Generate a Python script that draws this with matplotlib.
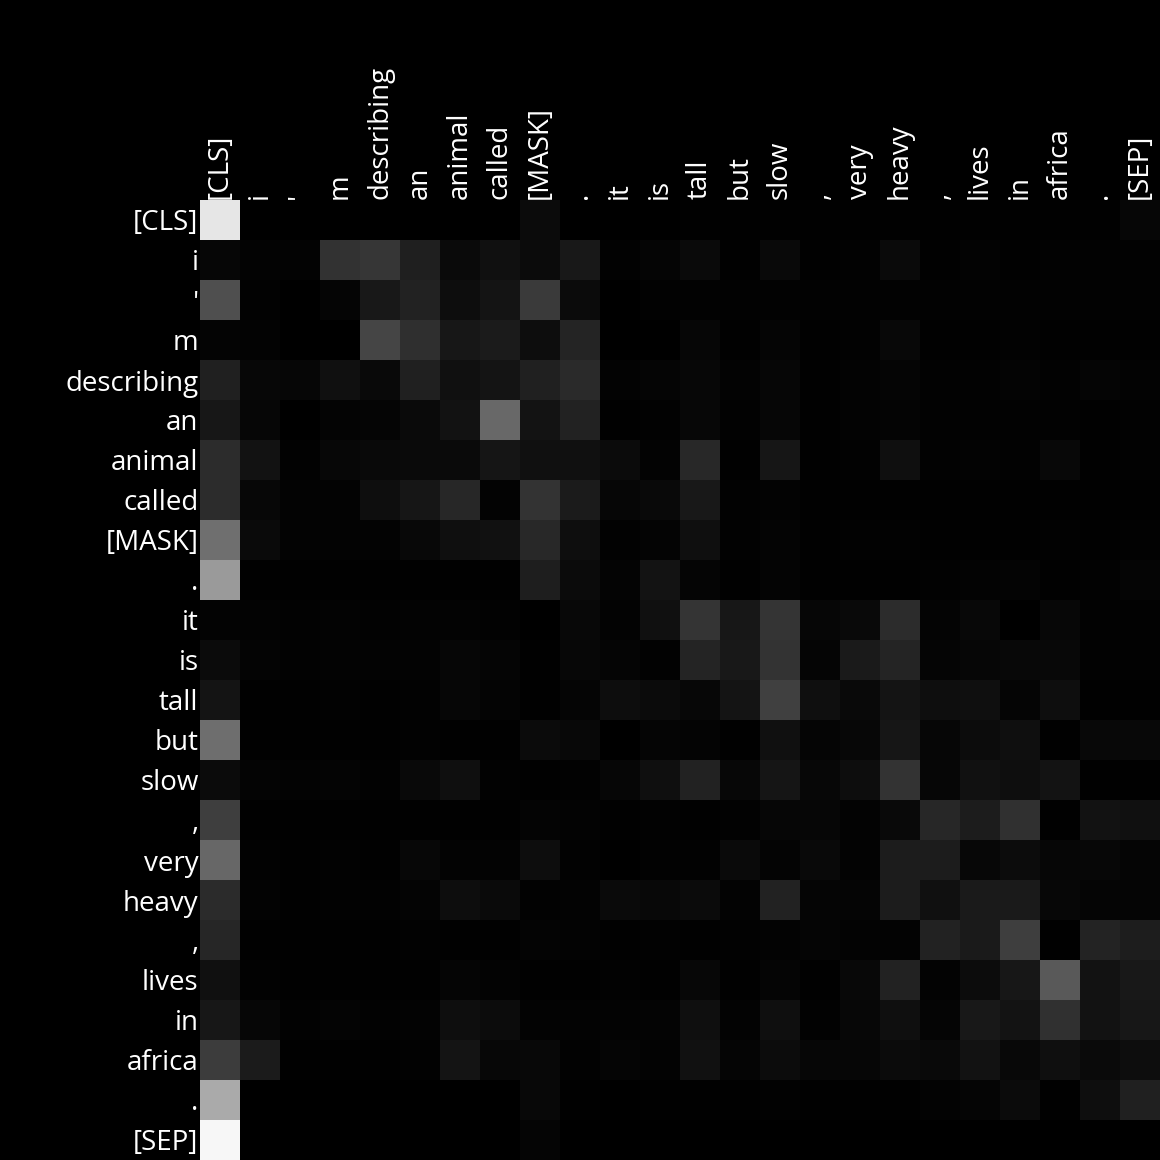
import matplotlib
matplotlib.use("Agg")
import matplotlib.pyplot as plt
import numpy as np

# ── Tokens ───────────────────────────────────────────────────
tokens = ["[CLS]", "i", "'", "m", "describing", "an", "animal", "called",
          "[MASK]", ".", "it", "is", "tall", "but", "slow", ",", "very",
          "heavy", ",", "lives", "in", "africa", ".", "[SEP]"]

# ── Attention weights (read as grey level, 0-255) ────────────
attn = [
    [0xE6, 0x00, 0x00, 0x00, 0x00, 0x00, 0x00, 0x00, 0x0B, 0x00, 0x00, 0x00, 0x01, 0x01, 0x01, 0x01, 0x01, 0x01, 0x01, 0x01, 0x01, 0x01, 0x01, 0x06],
    [0x06, 0x03, 0x03, 0x32, 0x36, 0x1F, 0x0A, 0x10, 0x0B, 0x18, 0x02, 0x05, 0x0A, 0x01, 0x09, 0x01, 0x02, 0x0A, 0x01, 0x03, 0x01, 0x02, 0x02, 0x02],
    [0x4F, 0x02, 0x00, 0x05, 0x18, 0x22, 0x0D, 0x14, 0x3A, 0x0B, 0x00, 0x02, 0x02, 0x02, 0x02, 0x02, 0x02, 0x02, 0x02, 0x02, 0x02, 0x02, 0x02, 0x02],
    [0x04, 0x03, 0x00, 0x00, 0x45, 0x2F, 0x17, 0x1B, 0x0D, 0x24, 0x00, 0x00, 0x06, 0x01, 0x05, 0x01, 0x02, 0x08, 0x01, 0x01, 0x02, 0x01, 0x01, 0x01],
    [0x21, 0x07, 0x06, 0x10, 0x09, 0x21, 0x10, 0x14, 0x21, 0x2A, 0x03, 0x05, 0x07, 0x03, 0x06, 0x01, 0x03, 0x05, 0x02, 0x02, 0x04, 0x02, 0x05, 0x03],
    [0x17, 0x06, 0x00, 0x04, 0x05, 0x0A, 0x12, 0x68, 0x13, 0x22, 0x01, 0x02, 0x07, 0x02, 0x06, 0x01, 0x03, 0x04, 0x02, 0x02, 0x02, 0x02, 0x01, 0x02],
    [0x2C, 0x12, 0x02, 0x07, 0x09, 0x0A, 0x0A, 0x15, 0x10, 0x10, 0x0B, 0x03, 0x28, 0x01, 0x16, 0x01, 0x02, 0x0F, 0x02, 0x03, 0x02, 0x08, 0x01, 0x02],
    [0x2C, 0x07, 0x03, 0x03, 0x0E, 0x16, 0x27, 0x03, 0x33, 0x1B, 0x06, 0x09, 0x18, 0x02, 0x03, 0x01, 0x01, 0x01, 0x01, 0x01, 0x01, 0x01, 0x01, 0x01],
    [0x6F, 0x0A, 0x03, 0x03, 0x03, 0x08, 0x0F, 0x11, 0x28, 0x0E, 0x02, 0x04, 0x0F, 0x02, 0x04, 0x01, 0x02, 0x02, 0x01, 0x01, 0x01, 0x02, 0x01, 0x02],
    [0x9A, 0x01, 0x01, 0x01, 0x01, 0x01, 0x01, 0x01, 0x1E, 0x0B, 0x04, 0x13, 0x05, 0x01, 0x04, 0x01, 0x01, 0x01, 0x02, 0x03, 0x04, 0x01, 0x02, 0x05],
    [0x03, 0x03, 0x02, 0x03, 0x02, 0x03, 0x03, 0x02, 0x00, 0x08, 0x03, 0x10, 0x35, 0x17, 0x35, 0x06, 0x09, 0x2D, 0x04, 0x08, 0x00, 0x07, 0x02, 0x02],
    [0x0B, 0x04, 0x02, 0x03, 0x03, 0x03, 0x06, 0x05, 0x01, 0x07, 0x05, 0x02, 0x25, 0x18, 0x33, 0x05, 0x1A, 0x25, 0x05, 0x06, 0x08, 0x08, 0x02, 0x02],
    [0x14, 0x01, 0x01, 0x02, 0x01, 0x02, 0x06, 0x04, 0x01, 0x05, 0x0D, 0x0B, 0x07, 0x14, 0x40, 0x0F, 0x09, 0x14, 0x0E, 0x0F, 0x05, 0x0E, 0x01, 0x01],
    [0x6E, 0x01, 0x01, 0x01, 0x01, 0x02, 0x01, 0x01, 0x0B, 0x08, 0x00, 0x05, 0x04, 0x01, 0x10, 0x05, 0x07, 0x16, 0x06, 0x0C, 0x0F, 0x01, 0x08, 0x08],
    [0x0B, 0x04, 0x03, 0x04, 0x02, 0x09, 0x0F, 0x02, 0x01, 0x02, 0x06, 0x0F, 0x22, 0x07, 0x15, 0x07, 0x0D, 0x33, 0x06, 0x11, 0x0E, 0x13, 0x01, 0x01],
    [0x3E, 0x01, 0x01, 0x01, 0x01, 0x01, 0x01, 0x01, 0x04, 0x03, 0x01, 0x02, 0x01, 0x02, 0x06, 0x06, 0x03, 0x09, 0x27, 0x1C, 0x31, 0x01, 0x12, 0x10],
    [0x67, 0x02, 0x01, 0x02, 0x01, 0x07, 0x03, 0x03, 0x0D, 0x02, 0x00, 0x02, 0x02, 0x0A, 0x04, 0x09, 0x03, 0x1C, 0x1C, 0x07, 0x0C, 0x06, 0x07, 0x05],
    [0x2B, 0x03, 0x01, 0x02, 0x02, 0x04, 0x0D, 0x0A, 0x02, 0x03, 0x0A, 0x08, 0x0B, 0x03, 0x22, 0x05, 0x05, 0x1C, 0x10, 0x1A, 0x1A, 0x07, 0x05, 0x05],
    [0x26, 0x01, 0x01, 0x01, 0x01, 0x02, 0x01, 0x01, 0x04, 0x03, 0x01, 0x02, 0x01, 0x02, 0x03, 0x05, 0x03, 0x03, 0x22, 0x1A, 0x3E, 0x01, 0x23, 0x1D],
    [0x10, 0x02, 0x01, 0x01, 0x01, 0x01, 0x05, 0x03, 0x01, 0x01, 0x02, 0x01, 0x07, 0x01, 0x05, 0x01, 0x08, 0x22, 0x03, 0x0C, 0x17, 0x5A, 0x12, 0x18],
    [0x17, 0x06, 0x02, 0x04, 0x02, 0x03, 0x0E, 0x0C, 0x03, 0x03, 0x03, 0x04, 0x0F, 0x03, 0x0F, 0x02, 0x07, 0x0F, 0x05, 0x18, 0x13, 0x30, 0x12, 0x17],
    [0x3C, 0x1B, 0x01, 0x01, 0x01, 0x02, 0x14, 0x07, 0x08, 0x02, 0x05, 0x03, 0x11, 0x05, 0x0C, 0x06, 0x06, 0x0B, 0x09, 0x12, 0x08, 0x0F, 0x0A, 0x0D],
    [0xAA, 0x00, 0x00, 0x00, 0x00, 0x00, 0x00, 0x00, 0x08, 0x01, 0x00, 0x01, 0x01, 0x01, 0x02, 0x01, 0x01, 0x01, 0x03, 0x05, 0x0B, 0x01, 0x0E, 0x21],
    [0xF7, 0x00, 0x00, 0x00, 0x00, 0x00, 0x00, 0x00, 0x05, 0x00, 0x00, 0x00, 0x00, 0x00, 0x00, 0x00, 0x00, 0x00, 0x00, 0x00, 0x00, 0x00, 0x00, 0x00],
]

BG = "#000000"
FG = "#ffffff"

plt.rcParams["font.family"] = ["Open Sans", "DejaVu Sans"]

fig = plt.figure(figsize=(11.6, 11.6), dpi=100)
fig.patch.set_facecolor(BG)
ax = fig.add_axes([200 / 1160, 0, 960 / 1160, 960 / 1160])
ax.set_facecolor(BG)

weights = np.array(attn) / 255.0
ax.imshow(weights, cmap="gray", vmin=0, vmax=1, interpolation="nearest", aspect="auto")

ax.set_xticks(range(len(tokens)))
ax.set_yticks(range(len(tokens)))
ax.set_xticklabels(tokens, rotation=90, color=FG, fontsize=20)
ax.set_yticklabels(tokens, color=FG, fontsize=20)
ax.xaxis.tick_top()
ax.tick_params(length=0, pad=1)
for spine in ax.spines.values():
    spine.set_visible(False)

fig.savefig("out.png", dpi=100, facecolor=BG)
